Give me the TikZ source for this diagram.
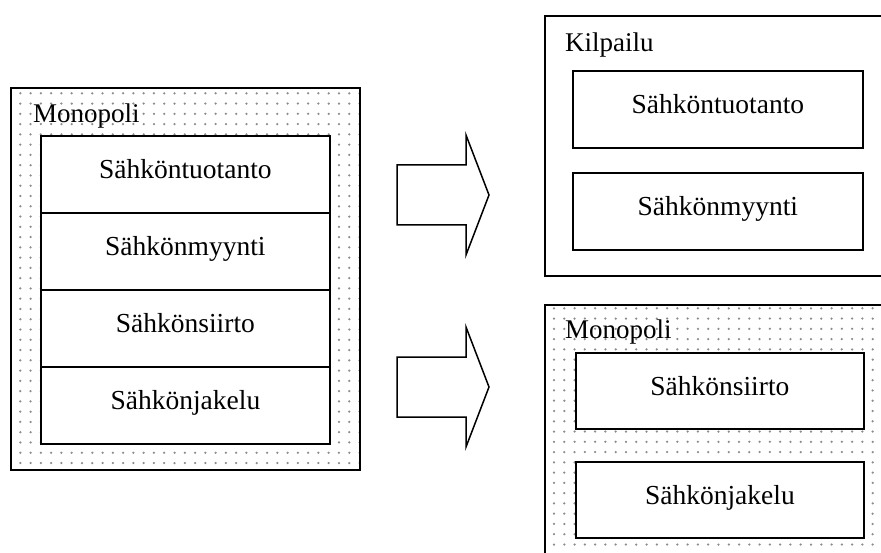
\documentclass[tikz,border=0pt]{standalone}
\usepackage{fontspec}
\setmainfont{Liberation Serif}
\tikzset{
  outerbox/.style={draw=black, line width=2pt, anchor=north west, inner sep=0pt},
  innerbox/.style={draw=black, line width=1.8pt, fill=white, anchor=north west, inner sep=0pt,
    font=\fontsize{27.5}{31}\selectfont, text height=18pt, text depth=9pt},
  lbl/.style={font=\fontsize{27}{31}\selectfont, inner sep=0pt},
  bigarrow/.style={draw=black, line width=1.5pt, line join=miter, fill=white},
  dotc/.style={fill=black!45}
}
\begin{document}
\begin{tikzpicture}[x=1pt,y=-1pt]
\useasboundingbox (0,0) rectangle (881,553);
\clip (0,0) rectangle (881,553);
% dotted backgrounds
\begin{scope}
  \clip (10,87) rectangle (359,469);
  \foreach \i in {0,...,33}{\foreach \j in {0,...,36}{\fill[dotc] (20.3+10.28*\i, 93.3+10.27*\j) circle (1.25pt);}}
\end{scope}
\begin{scope}
  \clip (544,304) rectangle (890,560);
  \foreach \i in {0,...,32}{\foreach \j in {0,...,24}{\fill[dotc] (554+10.28*\i, 308.3+10.27*\j) circle (1.25pt);}}
\end{scope}
% outer boxes
\node[outerbox, minimum width=349pt, minimum height=382pt] (mono1) at (10,87) {};
\node[outerbox, minimum width=360pt, minimum height=260pt] (kil) at (544,15) {};
\node[outerbox, minimum width=360pt, minimum height=270pt] (mono2) at (544,304) {};
% titles
\node[lbl, anchor=base west] (t1) at (33,123) {Monopoli};
\node[lbl, anchor=base west] (t2) at (565,52) {Kilpailu};
\node[lbl, anchor=base west] (t3) at (565,338) {Monopoli};
% left inner boxes
\node[innerbox, minimum width=289pt, minimum height=77pt] (a1) at (40,135) {Sähköntuotanto};
\node[innerbox, minimum width=289pt, minimum height=77pt] (a2) at (40,212) {Sähkönmyynti};
\node[innerbox, minimum width=289pt, minimum height=77pt] (a3) at (40,289) {Sähkönsiirto};
\node[innerbox, minimum width=289pt, minimum height=77pt] (a4) at (40,366) {Sähkönjakelu};
% Kilpailu inner boxes
\node[innerbox, minimum width=290pt, minimum height=77pt] (b1) at (572,70) {Sähköntuotanto};
\node[innerbox, minimum width=290pt, minimum height=77pt] (b2) at (572,172) {Sähkönmyynti};
% Monopoli inner boxes
\node[innerbox, minimum width=288pt, minimum height=76pt] (c1) at (575,352) {Sähkönsiirto};
\node[innerbox, minimum width=288pt, minimum height=76pt] (c2) at (575,461) {Sähkönjakelu};
% block arrows
\draw[bigarrow] (397,165) -- (466,165) -- (466,135) -- (489,195) -- (466,255) -- (466,225) -- (397,225) -- cycle;
\draw[bigarrow] (397,357) -- (466,357) -- (466,327) -- (489,387) -- (466,447) -- (466,417) -- (397,417) -- cycle;
\end{tikzpicture}
\end{document}
